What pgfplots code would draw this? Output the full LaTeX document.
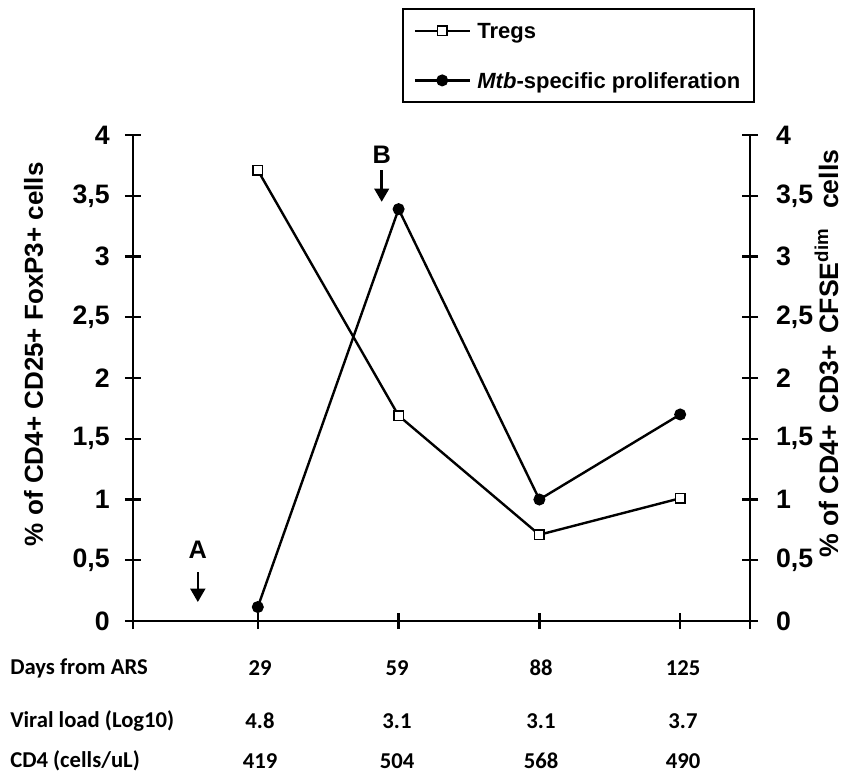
\documentclass[border=0pt]{standalone}
\usepackage{fontspec}
\setmainfont{Liberation Sans}
\newfontfamily\calibri{Carlito}
\usepackage{pgfplots}
\usepackage{pgfplotstable}
\pgfplotsset{compat=1.18}
\usetikzlibrary{arrows.meta}

\pgfplotstableread{
x tregs mtb
1 3.71 0.115
2 1.69 3.39
3 0.71 1.00
4 1.01 1.70
}\datatable

\begin{document}
\begin{tikzpicture}
\pgfplotsset{
  common/.style={
    at={(99.75pt,-465.75pt)}, anchor=south west,
    scale only axis, width=462.75pt, height=364.5pt,
    xmin=0.1135, xmax=4.496, ymin=0, ymax=4,
    ytick={0,0.5,...,4},
    yticklabels={0,{0,5},1,{1,5},2,{2,5},3,{3,5},4},
    tick align=center, major tick length=12pt,
    every tick/.style={black, line width=1.7pt},
    axis line style={line width=1.9pt},
    tick label style={font=\fontsize{20}{24}\selectfont\bfseries},
    clip=false,
    legend image code/.code={\draw[mark repeat=2,mark phase=2,##1] plot coordinates {(0pt,0pt) (20.5pt,0pt) (41pt,0pt)};},
  },
  tregsstyle/.style={black, line width=1.8pt, mark=square*, mark options={fill=white, line width=1.2pt, mark size=3.6pt}},
  mtbstyle/.style={black, line width=1.8pt, mark=*, mark options={fill=black, line width=1pt, mark size=4pt}},
}
\begin{axis}[common,
  axis x line*=bottom, axis y line*=left,
  xtick={0.1135,1,2,3,4,4.496}, xticklabels={},
  yticklabel style={xshift=-8pt},
  ylabel={\% of CD4+ CD25+ FoxP3+ cells},
  ylabel style={at={(axis description cs:-0.161,0.549)}, anchor=center, font=\fontsize{19.5}{23}\selectfont\bfseries},
]
\addplot[tregsstyle] table[x=x,y=tregs]{\datatable};
\draw[line width=1.9pt, -{Triangle[width=11pt,length=10pt]}] (axis cs:0.574,0.40) -- (axis cs:0.574,0.156);
\node[font=\fontsize{19}{22}\selectfont\bfseries] at (axis cs:0.574,0.584) {A};
\draw[line width=1.9pt, -{Triangle[width=11pt,length=10pt]}] (axis cs:1.88,3.71) -- (axis cs:1.88,3.45);
\node[font=\fontsize{19}{22}\selectfont\bfseries] at (axis cs:1.88,3.835) {B};
\end{axis}
\begin{axis}[common,
  axis y line*=right, axis x line=none,
  yticklabel style={xshift=10pt},
  ylabel={\% of CD4+\hspace{0.15em} CD3+\hspace{0.15em} CFSE\textsuperscript{dim}\hspace{0.45em} cells},
  ylabel style={at={(axis description cs:1.124,0.55)}, anchor=center, font=\fontsize{20}{24}\selectfont\bfseries},
  legend cell align=left,
  legend style={at={(0.436,1.261)}, anchor=north west, draw=black, line width=1.5pt,
    font=\fontsize{16.5}{20}\selectfont\bfseries, inner xsep=8pt, inner ysep=8.5pt, row sep=21.6pt, column sep=3pt,
    nodes={text depth=0pt}},
]
\addlegendimage{tregsstyle}
\addlegendentry{Tregs}
\addplot[mtbstyle] table[x=x,y=mtb]{\datatable};
\addlegendentry{\textit{Mtb}-specific proliferation}
\end{axis}
\begin{scope}[x=0.75pt,y=-0.75pt]
\tikzset{tb/.style={font=\calibri\bfseries\fontsize{17}{20}\selectfont, inner sep=0pt}}
\node[tb, anchor=west] at (10,668) {Days from ARS};
\node[tb, anchor=west] at (10,721) {Viral load (Log10)};
\node[tb, anchor=west] at (10,761) {CD4 (cells/uL)};
\node[tb] at (260,668) {29};
\node[tb] at (397,668) {59};
\node[tb] at (541,668) {88};
\node[tb] at (683,668) {125};
\node[tb] at (260,721) {4.8};
\node[tb] at (397,721) {3.1};
\node[tb] at (541,721) {3.1};
\node[tb] at (683,721) {3.7};
\node[tb] at (260,761) {419};
\node[tb] at (397,761) {504};
\node[tb] at (541,761) {568};
\node[tb] at (683,761) {490};
\end{scope}
\pgfresetboundingbox
\path[use as bounding box] (0pt,0pt) rectangle (633pt,-581.25pt);
\end{tikzpicture}
\end{document}
